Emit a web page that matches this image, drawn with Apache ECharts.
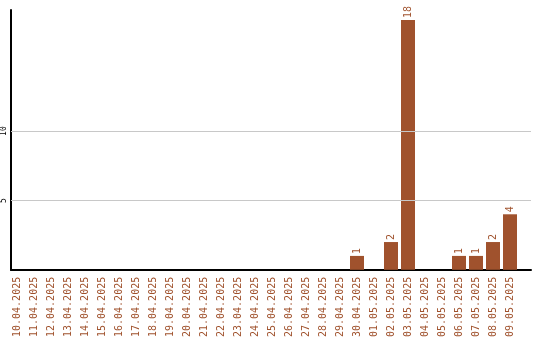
<!DOCTYPE html>
<html><head><meta charset="utf-8">
<script src="https://cdn.jsdelivr.net/npm/echarts@6/dist/echarts.min.js"></script>
<style>html,body{margin:0;padding:0;background:#fff}#c{width:540px;height:340px}</style>
</head><body><div id="c"></div>
<script>
const categories = ["10.04.2025","11.04.2025","12.04.2025","13.04.2025","14.04.2025","15.04.2025","16.04.2025","17.04.2025","18.04.2025","19.04.2025","20.04.2025","21.04.2025","22.04.2025","23.04.2025","24.04.2025","25.04.2025","26.04.2025","27.04.2025","28.04.2025","29.04.2025","30.04.2025","01.05.2025","02.05.2025","03.05.2025","04.05.2025","05.05.2025","06.05.2025","07.05.2025","08.05.2025","09.05.2025"];
const values = [0,0,0,0,0,0,0,0,0,0,0,0,0,0,0,0,0,0,0,0,1,0,2,18,0,0,1,1,2,4];
const yTickLabels = [5, 10];
const gridValues = [5, 10];
const yMax = 18.72;

const barColor = '#a0522d';
const mono = 'DejaVu Sans Mono';
const chart = echarts.init(document.getElementById('c'), null, {renderer:'canvas'});
chart.setOption({
  animation: false,
  backgroundColor: '#fff',
  grid: [
    {left: 8.5, right: 21.5, top: 10, bottom: 70},
    {left: 11, right: 9, top: 10, bottom: 70}
  ],
  xAxis: [
    {type:'category', gridIndex:0, data: categories,
     axisLine:{show:false}, axisTick:{show:false},
     axisLabel:{rotate:90, color: barColor, fontFamily: mono, fontSize: 10, margin: 7, interval: 0}},
    {type:'value', gridIndex:1, min:0, max:1,
     axisLine:{show:true, onZero:false, lineStyle:{color:'#000', width:2}},
     axisTick:{show:false}, axisLabel:{show:false}, splitLine:{show:false}}
  ],
  yAxis: [
    {type:'value', gridIndex:0, min:0, max:yMax, show:false, splitLine:{show:false}},
    {type:'value', gridIndex:1, min:0, max:yMax, interval:5,
     axisLine:{show:true, lineStyle:{color:'#000', width:2}},
     axisTick:{show:false}, splitLine:{show:false},
     axisLabel:{rotate:90, fontFamily: mono, fontSize: 8, color:'#000', margin: 3,
       formatter: v => yTickLabels.includes(v) ? String(v) : ''}}
  ],
  series: [
    {type:'bar', xAxisIndex:0, yAxisIndex:0, data: values, barWidth: 14,
     itemStyle:{color: barColor},
     label:{show:true, position:'top', rotate:90, align:'left', verticalAlign:'middle', distance: 2,
       color: barColor, fontFamily: mono, fontSize: 10,
       formatter: p => p.value ? String(p.value) : ''}},
    {type:'line', xAxisIndex:1, yAxisIndex:1, data: [], silent:true,
     markLine:{silent:true, symbol:['none','none'], label:{show:false},
       lineStyle:{color:'#c8c8c8', width:1, type:'solid'},
       data: gridValues.map(v => ({yAxis: v}))}}
  ]
});
</script></body></html>
